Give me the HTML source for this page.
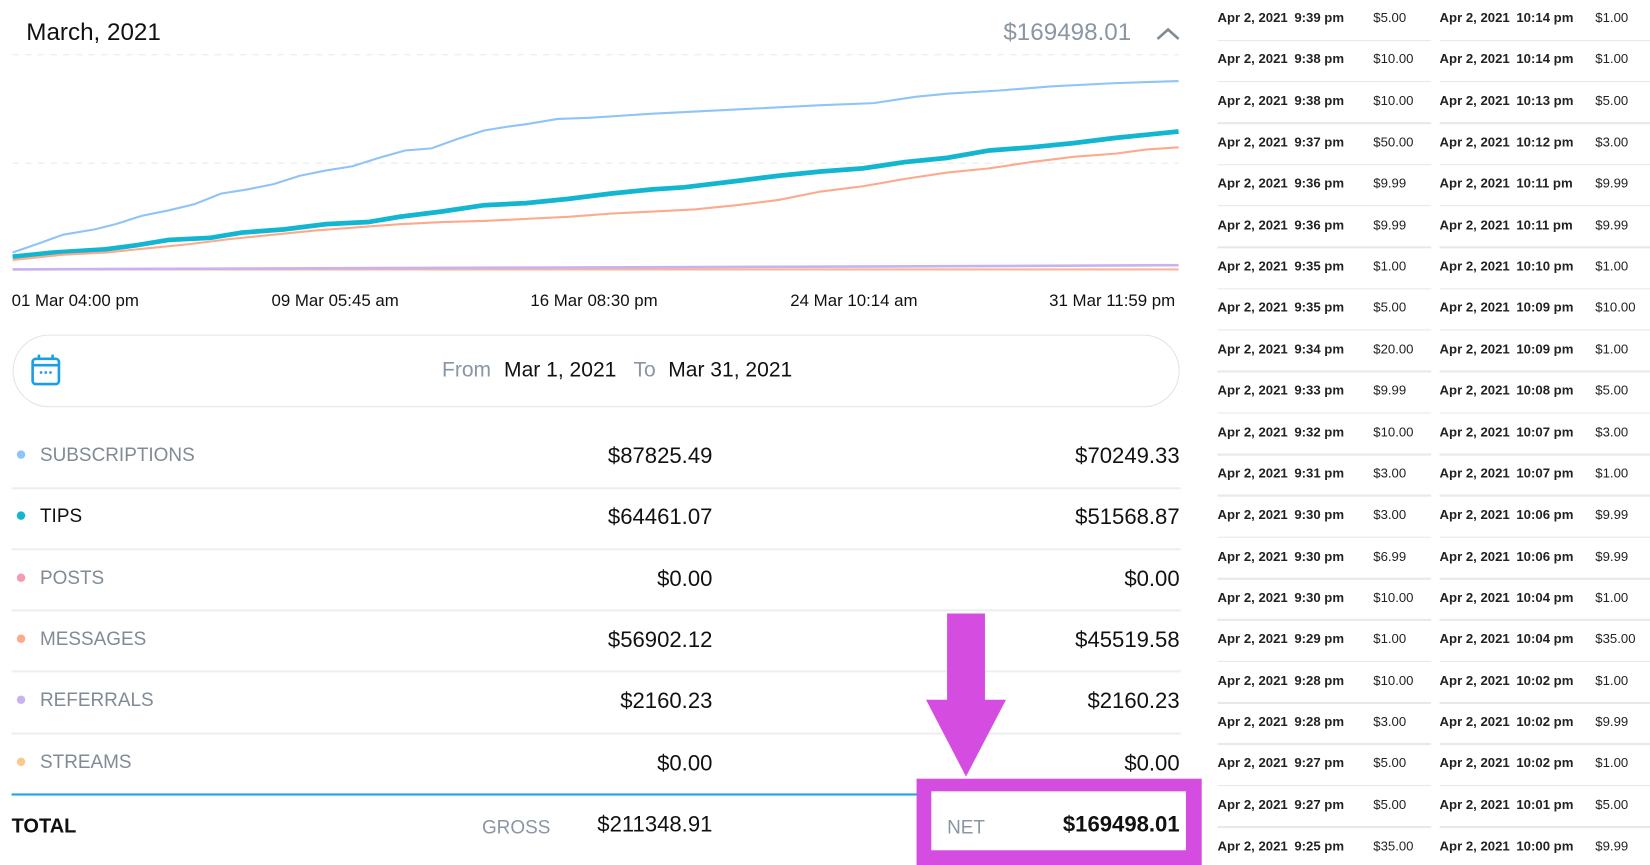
<!DOCTYPE html>
<html><head><meta charset="utf-8"><style>
html,body{margin:0;padding:0;background:#fff;overflow:hidden;width:1650px;height:865px}
#w{position:absolute;left:0;top:0;width:1568px;height:822px;transform:scale(1.0523,1.0523);transform-origin:0 0;font-family:"Liberation Sans",sans-serif;color:#111}
.a{position:absolute;white-space:nowrap}
.r{text-align:right}
.lab{font-size:18px;color:#808b96;left:38px}
.dot{position:absolute;left:16px;width:8px;height:8px;border-radius:50%}
.v{font-size:21px;width:300px}
.sep{position:absolute;left:11px;width:1111px;height:2px;background:#eceef0}
.t{font-size:12.5px;font-weight:bold;color:#222}
.ts{position:absolute;height:1.5px;background:#e8e8e8}
</style></head><body><div id="w">
<div class="a" style="left:25px;top:17px;font-size:23px;font-weight:500">March, 2021</div>
<div class="a r" style="left:875px;width:200px;top:17px;font-size:23px;color:#8a96a3">$169498.01</div>
<svg class="a" style="left:0;top:0" width="1140" height="320">
<polyline points="1100,37 1110,28 1120,37" fill="none" stroke="#7d8a96" stroke-width="2.5"/>
<line x1="12" y1="52" x2="1120" y2="52" stroke="#e8e8e8" stroke-dasharray="6,6"/>
<line x1="12" y1="155" x2="1120" y2="155" stroke="#e8e8e8" stroke-dasharray="6,6"/>
<polyline points="12,256 1120,256" stroke="#fbb59a" stroke-width="2" fill="none"/>
<polyline points="12,256 300,255 600,254 900,253 1120,252" stroke="#c9b3ef" stroke-width="2.5" fill="none"/>
<polyline points="12,240 35,232 60,223 90,218 110,213 135,205 160,200 185,194 210,184 235,180 260,175 285,167 310,162 335,158 360,150 385,143 410,141 435,132 460,124 485,120 500,118 530,113 560,112 620,108 700,104 780,100 830,98 870,92 900,89 950,86 1000,82 1060,79 1120,77" fill="none" stroke="#8ec4f7" stroke-width="2"/>
<polyline points="12,244 50,240 100,237 130,233 160,228 200,226 230,221 270,218 310,213 350,211 380,206 420,201 460,195 500,193 540,189 580,184 620,180 650,178 700,172 740,167 780,163 820,160 860,154 900,150 940,143 980,140 1020,136 1060,131 1090,128 1120,125" fill="none" stroke="#12b6d0" stroke-width="4.5"/>
<polyline points="12,247 60,242 100,240 140,236 180,232 220,227 260,223 300,219 340,216 380,213 420,211 460,210 500,208 540,206 580,203 620,201 660,199 700,195 740,190 780,182 820,177 860,170 900,164 940,160 980,154 1020,149 1060,146 1090,142 1120,140" fill="none" stroke="#fca98c" stroke-width="2"/>
</svg>
<div class="a" style="left:11px;top:278px;font-size:16px">01 Mar 04:00 pm</div>
<div class="a" style="left:258px;top:278px;font-size:16px">09 Mar 05:45 am</div>
<div class="a" style="left:504px;top:278px;font-size:16px">16 Mar 08:30 pm</div>
<div class="a" style="left:751px;top:278px;font-size:16px">24 Mar 10:14 am</div>
<div class="a" style="left:997px;top:278px;font-size:16px">31 Mar 11:59 pm</div>
<div class="a" style="left:12px;top:318px;width:1107px;height:67px;border:1.5px solid #e1e4e7;border-radius:35px"></div>
<svg class="a" style="left:29px;top:336px" width="30" height="32"><rect x="2" y="5" width="25" height="24" rx="3" fill="none" stroke="#1a9fe6" stroke-width="2.5"/><line x1="2" y1="11" x2="27" y2="11" stroke="#1a9fe6" stroke-width="2.5"/><line x1="8" y1="1" x2="8" y2="6" stroke="#1a9fe6" stroke-width="2.5"/><line x1="21" y1="1" x2="21" y2="6" stroke="#1a9fe6" stroke-width="2.5"/><circle cx="10" cy="18" r="1.3" fill="#1a9fe6"/><circle cx="14.5" cy="18" r="1.3" fill="#1a9fe6"/><circle cx="19" cy="18" r="1.3" fill="#1a9fe6"/></svg>
<div class="a" style="left:420px;top:341px;font-size:20px;color:#8a96a3">From</div>
<div class="a" style="left:479px;top:341px;font-size:20px;font-weight:500">Mar 1, 2021</div>
<div class="a" style="left:602px;top:341px;font-size:20px;color:#8a96a3">To</div>
<div class="a" style="left:635px;top:341px;font-size:20px">Mar 31, 2021</div>

<div class="dot" style="top:428px;background:#8ec4f7"></div><div class="a lab" style="top:422px">SUBSCRIPTIONS</div>
<div class="a r v" style="left:377px;top:422px">$87825.49</div><div class="a r v" style="left:821px;top:422px">$70249.33</div>
<div class="sep" style="top:463px"></div>
<div class="dot" style="top:486px;background:#12b6d0"></div><div class="a lab" style="top:480px;color:#111">TIPS</div>
<div class="a r v" style="left:377px;top:480px;font-weight:500">$64461.07</div><div class="a r v" style="left:821px;top:480px;font-weight:500">$51568.87</div>
<div class="sep" style="top:521px"></div>
<div class="dot" style="top:545px;background:#f59ab3"></div><div class="a lab" style="top:539px">POSTS</div>
<div class="a r v" style="left:377px;top:539px">$0.00</div><div class="a r v" style="left:821px;top:539px">$0.00</div>
<div class="sep" style="top:579px"></div>
<div class="dot" style="top:603px;background:#fca98c"></div><div class="a lab" style="top:597px">MESSAGES</div>
<div class="a r v" style="left:377px;top:597px">$56902.12</div><div class="a r v" style="left:821px;top:597px">$45519.58</div>
<div class="sep" style="top:637px"></div>
<div class="dot" style="top:661px;background:#c9b3ef"></div><div class="a lab" style="top:655px">REFERRALS</div>
<div class="a r v" style="left:377px;top:655px">$2160.23</div><div class="a r v" style="left:821px;top:655px">$2160.23</div>
<div class="sep" style="top:696px"></div>
<div class="dot" style="top:720px;background:#fcc98c"></div><div class="a lab" style="top:714px">STREAMS</div>
<div class="a r v" style="left:377px;top:714px">$0.00</div><div class="a r v" style="left:821px;top:714px">$0.00</div>
<div class="a" style="left:11px;top:754px;width:1111px;height:2px;background:#1aa3e8"></div>
<div class="a" style="left:11px;top:775px;font-size:19px;font-weight:bold">TOTAL</div>
<div class="a" style="left:458px;top:776px;font-size:18px;color:#8a96a3">GROSS</div>
<div class="a r v" style="left:377px;top:772px">$211348.91</div>
<svg class="a" style="left:870px;top:580px" width="280" height="242">
<polygon points="30,3 66,3 66,85 86,85 48,158 10,85 30,85" fill="#d54de0"/>
<rect x="1" y="160" width="271" height="90" fill="#d54de0"/>
<rect x="15" y="172" width="242" height="56" fill="#fff"/>
</svg>
<div class="a" style="left:900px;top:776px;font-size:18px;color:#8a96a3">NET</div>
<div class="a r v" style="left:821px;top:772px;font-weight:bold">$169498.01</div>
<div id="tb"></div>
</div>
<script>
var d=[["9:39","$5.00","10:14","$1.00"],["9:38","$10.00","10:14","$1.00"],["9:38","$10.00","10:13","$5.00"],["9:37","$50.00","10:12","$3.00"],["9:36","$9.99","10:11","$9.99"],["9:36","$9.99","10:11","$9.99"],["9:35","$1.00","10:10","$1.00"],["9:35","$5.00","10:09","$10.00"],["9:34","$20.00","10:09","$1.00"],["9:33","$9.99","10:08","$5.00"],["9:32","$10.00","10:07","$3.00"],["9:31","$3.00","10:07","$1.00"],["9:30","$3.00","10:06","$9.99"],["9:30","$6.99","10:06","$9.99"],["9:30","$10.00","10:04","$1.00"],["9:29","$1.00","10:04","$35.00"],["9:28","$10.00","10:02","$1.00"],["9:28","$3.00","10:02","$9.99"],["9:27","$5.00","10:02","$1.00"],["9:27","$5.00","10:01","$5.00"],["9:25","$35.00","10:00","$9.99"]];
var h="";
for(var i=0;i<d.length;i++){var y=18+i*39.35,t=y-8;
h+='<div class="a t" style="left:1157px;top:'+t+'px">Apr 2, 2021</div><div class="a t" style="left:1230px;top:'+t+'px">'+d[i][0]+' pm</div><div class="a t" style="left:1305px;top:'+t+'px;font-weight:normal">'+d[i][1]+'</div>';
h+='<div class="a t" style="left:1368px;top:'+t+'px">Apr 2, 2021</div><div class="a t" style="left:1441px;top:'+t+'px">'+d[i][2]+' pm</div><div class="a t" style="left:1516px;top:'+t+'px;font-weight:normal">'+d[i][3]+'</div>';
if(i<20){var s=y+19.5;h+='<div class="ts" style="left:1157px;width:203px;top:'+s+'px"></div><div class="ts" style="left:1368px;width:200px;top:'+s+'px"></div>';}}
document.getElementById("tb").outerHTML=h;
</script>
</body></html>
